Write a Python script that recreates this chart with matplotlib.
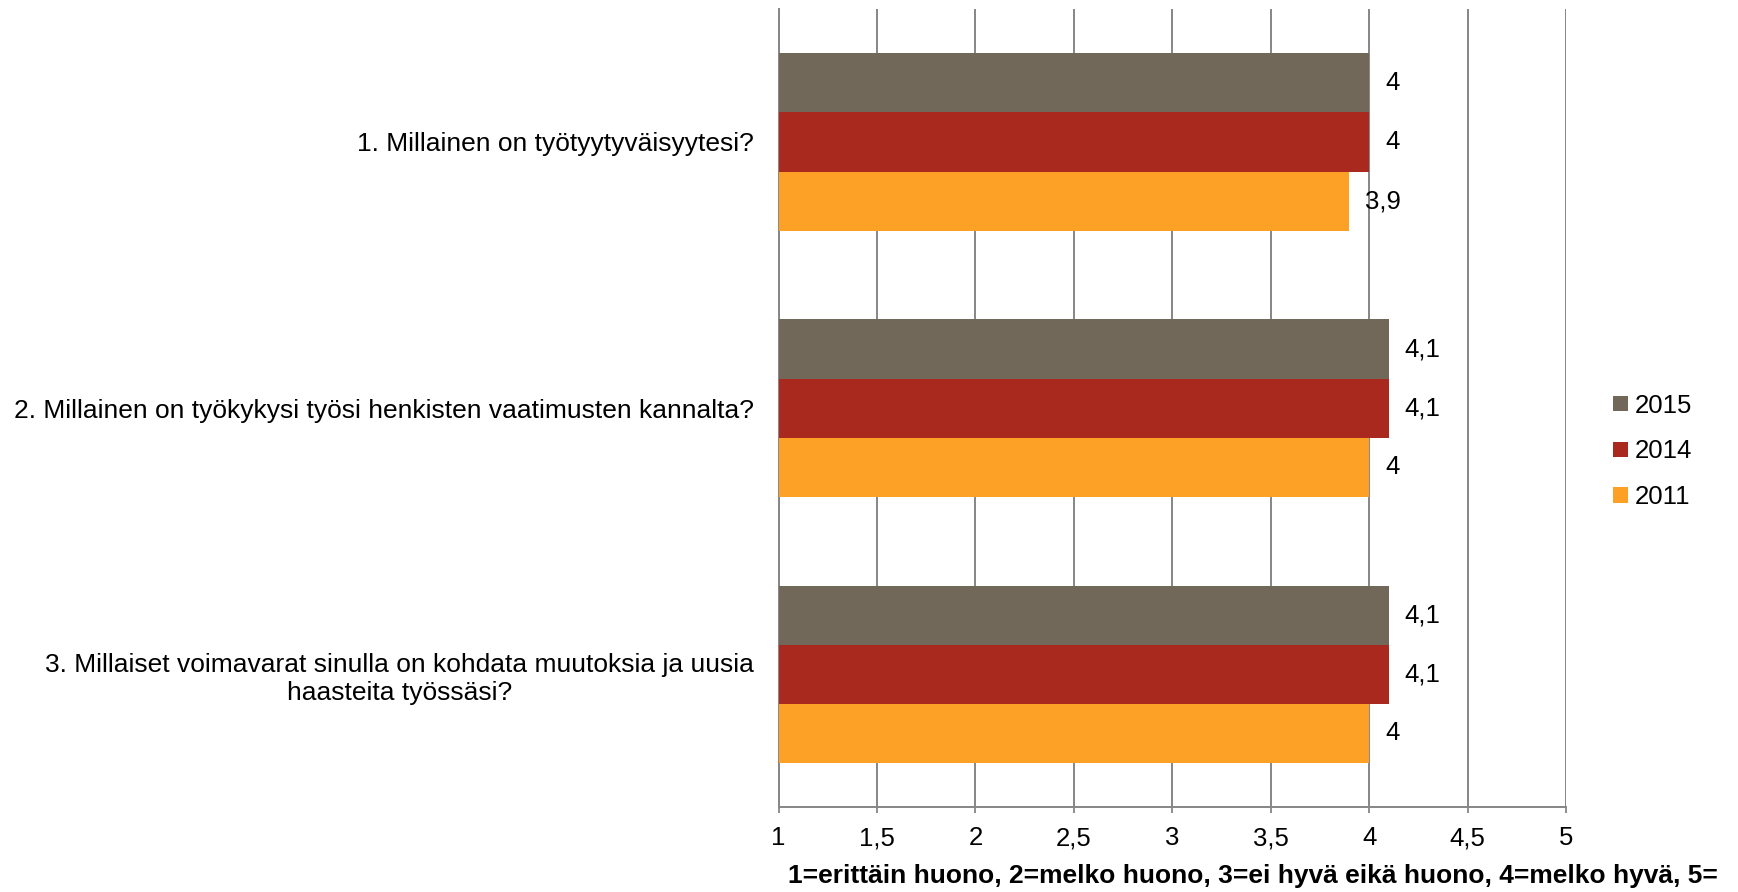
import numpy as np
from matplotlib import pyplot as plt

plt.rcParams['font.family'] = ['Liberation Sans', 'DejaVu Sans']

kysymykset = ['1. Millainen on työtyytyväisyytesi?',
              '2. Millainen on työkykysi työsi henkisten vaatimusten kannalta?',
              '3. Millaiset voimavarat sinulla on kohdata muutoksia ja uusia\nhaasteita työssäsi?']
vuodet = ['2015', '2014', '2011']
arvot_2015 = [4.0, 4.1, 4.1]
arvot_2014 = [4.0, 4.1, 4.1]
arvot_2011 = [3.9, 4.0, 4.0]
varit = ['#716859', '#A9291F', '#FDA026']
xtikit = [1, 1.5, 2, 2.5, 3, 3.5, 4, 4.5, 5]
# selite näkyy kuvassa katkaistuna oikeasta reunasta
xselite = '1=erittäin huono, 2=melko huono, 3=ei hyvä eikä huono, 4=melko hyvä, 5='

fs = 18.5

fig = plt.figure(figsize=(17.38, 8.92), dpi=100)
ax = fig.add_axes([0.448, 0.095, 0.453, 0.895])

y = np.arange(len(kysymykset))
h = 0.222
sarjat = [arvot_2015, arvot_2014, arvot_2011]
for i, (arvot, vuosi, vari) in enumerate(zip(sarjat, vuodet, varit)):
    pos = y + (i - 1) * h
    bars = ax.barh(pos, np.array(arvot) - 1, left=1, height=h, color=vari,
                   label=vuosi, zorder=3)
    for b, v in zip(bars, arvot):
        teksti = ('%g' % v).replace('.', ',')
        ax.annotate(teksti, (b.get_x() + b.get_width(), b.get_y() + b.get_height() / 2),
                    xytext=(11.5, 0), textcoords='offset points',
                    ha='left', va='center', fontsize=fs, zorder=4)

ax.set_xlim(1, 5)
ax.set_ylim(2.5, -0.5)
ax.set_xticks(xtikit)
ax.set_xticklabels([('%g' % t).replace('.', ',') for t in xtikit], fontsize=fs)
ax.set_yticks(y)
ax.set_yticklabels(kysymykset, fontsize=19, multialignment='center', linespacing=1.25)
ax.tick_params(axis='y', length=0, pad=18)
ax.tick_params(axis='x', length=4.5, width=1.3, color='#868686', pad=9)
ax.grid(axis='x', color='#868686', linewidth=1.4, zorder=0)
for s in ['top', 'right']:
    ax.spines[s].set_visible(False)
for s in ['left', 'bottom']:
    ax.spines[s].set_color('#868686')
    ax.spines[s].set_linewidth(1.4)

ax.set_xlabel(xselite, fontsize=19, fontweight='bold', ha='left', va='center')
ax.xaxis.set_label_coords(0.0115, -0.0865)

leg = fig.legend(loc='center left', bbox_to_anchor=(0.915, 0.494), frameon=False,
                 fontsize=fs, handlelength=0.55, handleheight=0.55,
                 handletextpad=0.3, labelspacing=0.85)

fig.savefig('out.png', dpi=100)
